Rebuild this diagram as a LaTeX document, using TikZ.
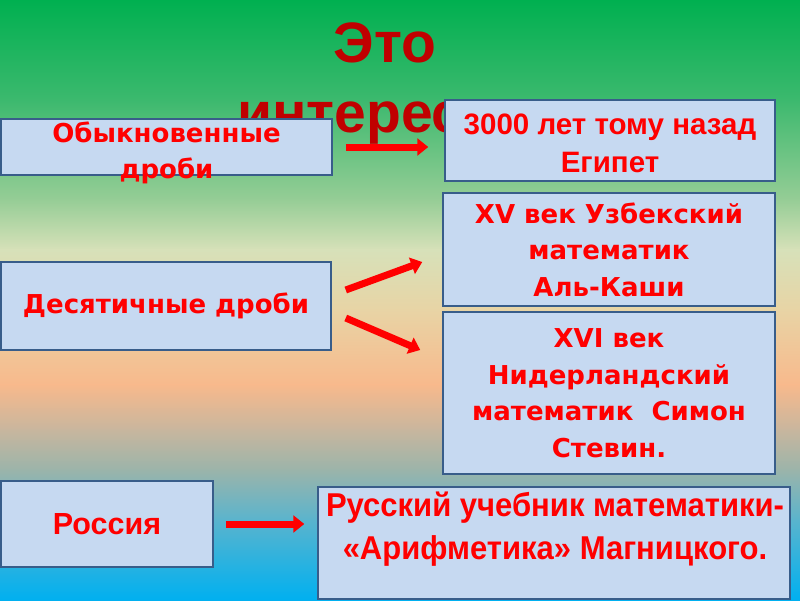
\documentclass[tikz,border=0pt]{standalone}
\usepackage{fontspec}
\setmainfont{Liberation Sans}
\newfontfamily\widefont{DejaVu Sans}
\newfontfamily\narrowfont[FakeStretch=0.94]{Liberation Sans}
\usetikzlibrary{arrows.meta}

\definecolor{boxfill}{RGB}{198,217,241}
\definecolor{boxline}{RGB}{56,93,138}
\definecolor{titlered}{RGB}{192,0,0}
\definecolor{bga}{RGB}{0,176,80}
\definecolor{bgb}{RGB}{60,185,110}
\definecolor{bgc}{RGB}{150,205,150}
\definecolor{bgd}{RGB}{215,225,185}
\definecolor{bge}{RGB}{232,212,165}
\definecolor{bgf}{RGB}{248,185,140}
\definecolor{bgg}{RGB}{200,182,158}
\definecolor{bgh}{RGB}{155,180,170}
\definecolor{bgi}{RGB}{90,180,205}
\definecolor{bgj}{RGB}{0,176,240}

\begin{document}
\begin{tikzpicture}[x=1pt, y=-1pt]

\tikzset{box/.style = {shape=rectangle, draw=boxline, fill=boxfill, line width=1.5pt, inner sep=0pt, align=center, text=red}}
\tikzset{wide/.style = {font=\widefont\bfseries\fontsize{26}{36.5}\selectfont}}
\tikzset{plain/.style = {font=\bfseries\fontsize{29.5}{38}\selectfont}}
\tikzset{narrow/.style = {font=\narrowfont\bfseries\fontsize{33}{43}\selectfont}}
\tikzset{arr/.style = {-{Triangle[length=11pt,width=17pt]}, line width=7pt, red}}

\useasboundingbox (0,0) rectangle (800,600);
% background
\foreach \ya/\yb/\ca/\cb in {0/100/bga/bgb, 100/200/bgb/bgc, 200/250/bgc/bgd, 250/310/bgd/bge, 310/385/bge/bgf, 385/430/bgf/bgg, 430/470/bgg/bgh, 470/520/bgh/bgi, 520/600/bgi/bgj}
  \shade[top color=\ca, bottom color=\cb] (0,\ya-0.5) rectangle (800,\yb+0.5);

% title
\node[text=titlered, align=center, anchor=base, font=\bfseries\fontsize{57}{70}\selectfont] (title) at (385,132) {Это\\интересно};

% boxes
\node[box, minimum width=331, minimum height=56] (obyk) at (166.5,147) {};
\node[wide, text=red, align=center] (obyktext) at (166.5,153) {Обыкновенные\\дроби};
\node[box, minimum width=330, minimum height=81] (egypt) at (610,140.5) {};
\node[plain, text=red, align=center] (egypttext) at (610,143.5) {3000 лет тому назад\\Египет};
\node[box, wide, minimum width=332, minimum height=113] (alkashi) at (609,249.5) {XV век Узбекский\\математик\\Аль-Каши};
\node[box, wide, minimum width=332, minimum height=162] (stevin) at (609,393) {XVI век\\Нидерландский\\математик~ Симон\\Стевин.};
\node[box, wide, minimum width=330, minimum height=88] (dec) at (166,306) {Десятичные дроби};
\node[box, font=\bfseries\fontsize{30.5}{40}\selectfont, minimum width=212, minimum height=86] (ros) at (107,524) {\raisebox{-2pt}{Россия}};
\node[box, minimum width=472, minimum height=112] (mag) at (554,543) {};
\node[narrow, text=red, align=center] (magtext) at (555,529) {Русский учебник математики-\\«Арифметика» Магницкого.};

% arrows
\draw[arr] ([xshift=13]obyk.east) -- ([xshift=-16]obyk.east -| egypt.west);
\draw[arr] ([shift={(14,-16)}]dec.east) -- ([shift={(-20,12.5)}]alkashi.west);
\draw[arr] ([shift={(14,12)}]dec.east) -- ([shift={(-22,-43)}]stevin.west);
\draw[arr] ([xshift=12]ros.east) -- ([xshift=-13]ros.east -| mag.west);
\end{tikzpicture}
\end{document}
